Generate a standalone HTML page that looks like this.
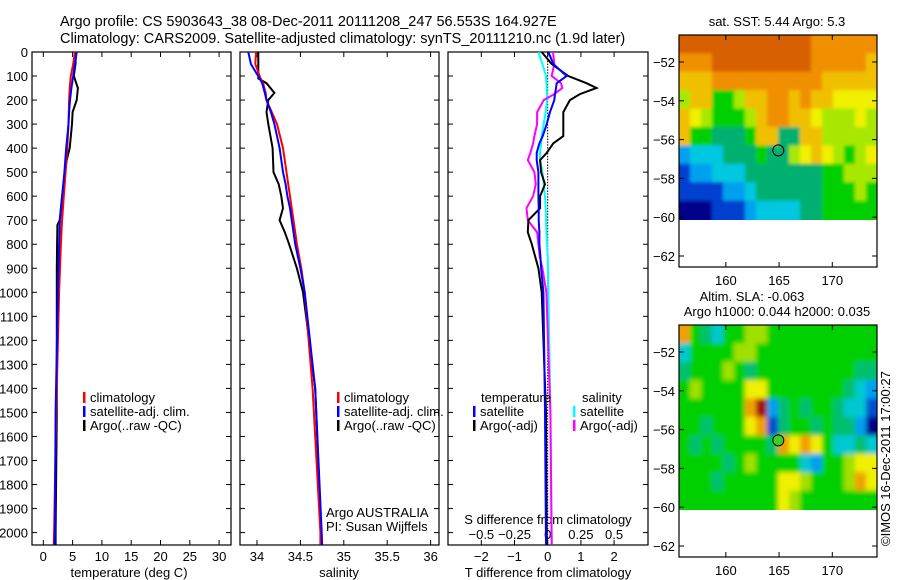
<!DOCTYPE html>
<html><head><meta charset="utf-8"><style>
body{margin:0;background:#fff}
svg{display:block;font-family:"Liberation Sans",sans-serif}
text{fill:#000}
</style></head><body>
<svg id="fig" width="900" height="580" viewBox="0 0 900 580">
<defs>
<filter id="blurSST" x="-10%" y="-10%" width="120%" height="120%"><feGaussianBlur stdDeviation="1.5"/></filter>
<filter id="blurSLA" x="-10%" y="-10%" width="120%" height="120%"><feGaussianBlur stdDeviation="2.5"/></filter>
<clipPath id="clipSST"><rect x="679" y="35" width="198" height="185"/></clipPath>
<clipPath id="clipSLA"><rect x="679" y="325" width="198" height="185"/></clipPath>
</defs>
<text x="60" y="26" font-size="14.5">Argo profile: CS 5903643_38 08-Dec-2011 20111208_247 56.553S 164.927E</text>
<text x="60" y="43" font-size="14.5">Climatology: CARS2009. Satellite-adjusted climatology: synTS_20111210.nc (1.9d later)</text>
<g id="g"></g>
</svg>
<script>
// ---- profile data ----
const tDepth=[0,50,100,150,200,250,300,400,450,500,600,700,720,800,900,1000,1500,2000,2050];
const tArgo=[5.6,5.5,5.2,5.9,5.7,5.0,4.9,4.5,4.0,3.7,3.2,2.8,2.4,2.35,2.3,2.3,2.3,2.1,2.1];
const tClim=[5.4,5.1,4.7,4.5,4.4,4.35,4.3,4.1,3.95,3.8,3.5,3.2,3.15,3.0,2.85,2.7,2.2,1.85,1.8];
const tSat=[5.7,5.4,5.1,4.8,4.55,4.4,4.3,3.9,3.75,3.6,3.2,2.85,2.8,2.7,2.6,2.5,2.1,2.0,1.9];
const sDepth=[0,50,110,130,170,200,250,300,400,500,550,600,650,700,750,800,900,1000,1400,2000,2050];
const sArgo=[34.015,34.015,34.015,34.11,34.2,34.13,34.11,34.13,34.18,34.19,34.25,34.28,34.30,34.26,34.32,34.37,34.46,34.53,34.67,34.74,34.74];
const sClim=[33.99,33.98,34.04,34.07,34.1,34.11,34.17,34.23,34.30,34.34,34.36,34.38,34.40,34.42,34.44,34.46,34.51,34.55,34.64,34.73,34.73];
const sSat=[33.9,33.93,34.03,34.06,34.09,34.11,34.16,34.2,34.26,34.30,34.33,34.35,34.38,34.40,34.42,34.44,34.5,34.55,34.67,34.745,34.75];
const dDepth=[0,50,100,130,150,175,200,250,300,350,380,420,450,500,550,600,650,700,750,800,850,900,1000,1500,2050];
const dTArgo=[-0.18,0.12,0.62,1.17,1.47,0.97,0.67,0.47,0.47,0.47,0.17,-0.03,-0.23,-0.2,-0.08,-0.23,-0.23,-0.58,-0.6,-0.48,-0.38,-0.28,-0.18,-0.05,-0.03];
const dTSat=[0.02,0.17,0.57,0.27,0.25,0.22,0.2,0.07,-0.03,-0.15,-0.25,-0.33,-0.33,-0.28,-0.28,-0.28,-0.27,-0.27,-0.25,-0.25,-0.22,-0.2,-0.13,-0.08,-0.05];
const dSSat=[-0.07,-0.04,-0.013,-0.01,-0.008,-0.006,-0.005,-0.015,-0.03,-0.045,-0.05,-0.058,-0.058,-0.04,-0.03,-0.02,-0.015,-0.013,-0.01,-0.005,0,0.002,0.005,0.02,0.03];
const dSArgo=[0.04,0.05,0.03,0.1,0.11,0.05,-0.03,-0.08,-0.08,-0.1,-0.11,-0.13,-0.15,-0.1,-0.09,-0.11,-0.16,-0.15,-0.08,-0.07,-0.06,-0.04,-0.01,0.02,0.03];
const depthTicks=[0,100,200,300,400,500,600,700,800,900,1000,1100,1200,1300,1400,1500,1600,1700,1800,1900,2000];
const tTicks=[0,5,10,15,20,25,30];
const sTicks=[34,34.5,35,35.5,36];
const sTickLabels=["34","34.5","35","35.5","36"];
const dTTicks=[-2,-1,0,1,2];
const dSTicks=[-0.5,-0.25,0,0.25,0.5];
const dSTickLabels=["-0.5","-0.25","0","0.25","0.5"];
// ---- map data (colour index 0..10) ----
const sstGrid=[
[10,10,10,10,10,10,10,10,10,10,10,10,9,9,9,9,9,9],
[9,9,9,10,10,10,10,10,10,10,10,10,9,9,9,9,9,8],
[8,8,8,9,9,9,9,9,9,9,9,9,9,8,8,8,8,8],
[6,8,8,5,5,6,8,8,9,9,8,9,8,8,7,7,7,7],
[8,7,6,5,5,5,6,8,9,9,8,8,7,6,6,6,7,6],
[8,5,5,4,4,4,5,8,8,4,4,8,8,6,6,6,6,6],
[2,3,3,3,4,4,4,5,4,4,6,7,8,7,6,5,6,7],
[1,2,2,3,3,3,4,4,4,4,4,4,4,5,5,6,6,6],
[1,1,1,1,2,2,3,4,4,4,4,4,4,5,5,5,6,5],
[0,0,0,1,1,1,2,3,3,3,3,4,4,5,5,5,5,5]];
const slaGrid=[
[8,5,4,3,5,5,6,6,5,5,5,5,5,5,5,5,5,5],
[3,5,5,5,5,6,6,5,5,5,5,5,5,5,5,5,5,5],
[4,5,5,5,6,5,4,5,5,5,5,5,5,5,5,5,4,4],
[5,6,5,5,5,5,7,7,5,5,5,5,5,5,5,4,3,2],
[5,5,5,5,5,5,8,10,2,4,5,4,5,5,4,3,3,1],
[5,5,4,5,5,5,7,8,1,4,5,5,4,5,4,4,2,0],
[5,4,5,4,5,5,5,5,4,8,7,8,7,5,3,3,4,3],
[5,5,5,5,4,5,6,5,5,5,5,3,2,5,5,6,7,7],
[5,5,5,4,5,5,5,5,5,7,7,6,5,5,5,6,8,7],
[5,5,5,5,5,5,5,5,5,7,6,5,5,5,5,5,5,5]];
const mapLatTicks=[-52,-54,-56,-58,-60,-62];
const mapLonTicks=[160,165,170];
const argoPos=[164.927,-56.553];

const sstPal=["#00008c","#0040d0","#00a0f0","#00c8e0","#00b070","#00d000","#a8e800","#f0f000","#f0c000","#f09000","#d86000"];
const slaPal=["#000090","#0050d0","#00a0f0","#00c8d0","#00c070","#00d000","#a0e000","#f0f000","#f0a000","#e06000","#a01010"];

const NS="http://www.w3.org/2000/svg";
const G=document.getElementById('g');
function mk(tag,attrs,parent){const e=document.createElementNS(NS,tag);for(const k in attrs)e.setAttribute(k,attrs[k]);(parent||G).appendChild(e);return e;}
function txt(x,y,s,size,anchor,name){const e=mk('text',{x:x,y:y,'font-size':size,'text-anchor':anchor||'start'});e.textContent=s;


return e;}

const pTop=52,pBot=545;
const yD=d=>52+0.2403*d;
const panels=[{x0:32,x1:231},{x0:240,x1:439},{x0:448,x1:648}];
const xT=v=>43.3+5.86*v;
const xS=v=>257+86.8*(v-34);
const xDT=v=>547.7+33.2*v;
const xDS=v=>547.7+132.7*v;

function line(xs,vals,depths,fx,color,name){
  const pts=vals.map((v,i)=>fx(v).toFixed(1)+','+yD(depths[i]).toFixed(1)).join(' ');
  const p=mk('polyline',{points:pts,fill:'none',stroke:color,'stroke-width':2});
  
  
}

panels.forEach((p,i)=>{
  const r=mk('rect',{x:p.x0,y:pTop,width:p.x1-p.x0,height:pBot-pTop,fill:'none',stroke:'#000','stroke-width':1.2});
  
  
  depthTicks.forEach(d=>{
    mk('line',{x1:p.x0,x2:p.x0+5,y1:yD(d),y2:yD(d),stroke:'#000'});
    mk('line',{x1:p.x1,x2:p.x1-5,y1:yD(d),y2:yD(d),stroke:'#000'});
  });
});
depthTicks.forEach(d=>txt(28,yD(d)+5,String(d),13,'end','depth-tick-label'));

// panel 1
tTicks.forEach(v=>{mk('line',{x1:xT(v),x2:xT(v),y1:pTop,y2:pTop+5,stroke:'#000'});mk('line',{x1:xT(v),x2:xT(v),y1:pBot,y2:pBot-5,stroke:'#000'});txt(xT(v),561,String(v),13,'middle','temperature-tick-label');});
txt(129,577,'temperature (deg C)',13,'middle','temperature-axis-title');
line(0,tArgo,tDepth,xT,'#000','temperature-argo-line');
line(0,tClim,tDepth,xT,'#f00','temperature-climatology-line');
line(0,tSat,tDepth,xT,'#00f','temperature-satellite-line');
// panel 2
sTicks.forEach((v,i)=>{mk('line',{x1:xS(v),x2:xS(v),y1:pTop,y2:pTop+5,stroke:'#000'});mk('line',{x1:xS(v),x2:xS(v),y1:pBot,y2:pBot-5,stroke:'#000'});txt(xS(v),561,sTickLabels[i],13,'middle','salinity-tick-label');});
txt(339,577,'salinity',13,'middle','salinity-axis-title');
line(0,sArgo,sDepth,xS,'#000','salinity-argo-line');
line(0,sClim,sDepth,xS,'#f00','salinity-climatology-line');
line(0,sSat,sDepth,xS,'#00f','salinity-satellite-line');
// panel 3
for(let d=0;d<=2050;d+=12){mk('rect',{x:547.2,y:yD(d),width:1,height:1.5,fill:'#000'});}
dTTicks.forEach(v=>{mk('line',{x1:xDT(v),x2:xDT(v),y1:pTop,y2:pTop+5,stroke:'#000'});mk('line',{x1:xDT(v),x2:xDT(v),y1:pBot,y2:pBot-5,stroke:'#000'});txt(xDT(v),561,String(v).replace('-','\u2212'),13,'middle','t-diff-tick-label');});
dSTicks.forEach((v,i)=>txt(xDS(v),539,dSTickLabels[i].replace('-','\u2212'),13,'middle','s-diff-tick-label'));
txt(548,524,'S difference from climatology',13,'middle','s-diff-axis-title');
txt(548,577,'T difference from climatology',13,'middle','t-diff-axis-title');
line(0,dSSat,dDepth,xDS,'#00ffff','s-diff-satellite-line');
line(0,dSArgo,dDepth,xDS,'#ff00ff','s-diff-argo-line');
line(0,dTArgo,dDepth,xDT,'#000','t-diff-argo-line');
line(0,dTSat,dDepth,xDT,'#0000ff','t-diff-satellite-line');

// legends
function leg(x,y,color,label,name){
  const b=mk('rect',{x:x,y:y-10,width:2.5,height:11,fill:color});
  
  
  txt(x+7,y,label,13,'start',name);
}
leg(83,402,'#f00','climatology','legend-climatology');
leg(83,416,'#00f','satellite-adj. clim.','legend-satellite-adj');
leg(83,430,'#000','Argo(..raw -QC)','legend-argo');
leg(337,402,'#f00','climatology','legend-climatology-2');
leg(337,416,'#00f','satellite-adj. clim.','legend-satellite-adj-2');
leg(337,430,'#000','Argo(..raw -QC)','legend-argo-2');
txt(326,517,'Argo AUSTRALIA',13,'start','argo-australia-label');
txt(326,531,'PI: Susan Wijffels',13,'start','pi-label');
txt(481,402,'temperature',13,'start','legend-temperature-header');
txt(582,402,'salinity',13,'start','legend-salinity-header');
leg(473,416,'#00f','satellite','legend-t-satellite');
leg(473,430,'#000','Argo(-adj)','legend-t-argo');
leg(573,416,'#00ffff','satellite','legend-s-satellite');
leg(573,430,'#ff00ff','Argo(-adj)','legend-s-argo');

// maps
const lonL=155.6,lonR=174.2;
const mx=v=>679+(v-lonL)*(198/(lonR-lonL));
function drawMap(y0,grid,pal,name,fillCircle,filt,clip){
  const myL=v=>y0+27+(-52-v)*19.4;
  const latTop=-50.6,latBot=-60.1;
  const rows=grid.length,cols=grid[0].length;
  const cw=(mx(lonR)-mx(lonL))/cols, ch=(myL(latBot)-myL(latTop))/rows;
  const outer=mk('g',{'clip-path':'url(#'+clip+')'});
  
  
  const inner=mk('g',{filter:'url(#'+filt+')'},outer);
  grid.forEach((row,r)=>row.forEach((v,c)=>{
    let x=mx(lonL)+c*cw, y=myL(latTop)+r*ch, w=cw+0.6, h=ch+0.6;
    if(c===0){x-=12;w+=12;} if(c===cols-1){w+=12;}
    if(r===0){y-=12;h+=12;} if(r===rows-1){h+=12;}
    const cell=mk('rect',{x:x.toFixed(2),y:y.toFixed(2),width:w.toFixed(2),height:h.toFixed(2),fill:pal[v]},inner);
    
    
  }));
  const b=mk('rect',{x:679,y:y0,width:198,height:232,fill:'none',stroke:'#000','stroke-width':1.2});
  
  
  mapLatTicks.forEach(v=>{mk('line',{x1:679,x2:684,y1:myL(v),y2:myL(v),stroke:'#000'});mk('line',{x1:877,x2:872,y1:myL(v),y2:myL(v),stroke:'#000'});txt(675,myL(v)+5,String(v).replace('-','\u2212'),13,'end',name+'-lat-label');});
  mapLonTicks.forEach(v=>{mk('line',{x1:mx(v),x2:mx(v),y1:y0,y2:y0+5,stroke:'#000'});mk('line',{x1:mx(v),x2:mx(v),y1:y0+232,y2:y0+227,stroke:'#000'});txt(mx(v),y0+250,String(v),13,'middle',name+'-lon-label');});
  const c=mk('circle',{cx:mx(argoPos[0]),cy:myL(argoPos[1]),r:5.5,fill:fillCircle||'none',stroke:'#000','stroke-width':1});
  
  
}
drawMap(35,sstGrid,sstPal,'sst-map',null,'blurSST','clipSST');
drawMap(325,slaGrid,slaPal,'sla-map','#40d020','blurSLA','clipSLA');
txt(777,26,'sat. SST: 5.44 Argo: 5.3',13,'middle','sst-map-title');
txt(752,301,'Altim. SLA: -0.063',13,'middle','sla-map-title');
txt(777,316,'Argo h1000: 0.044 h2000: 0.035',13,'middle','sla-map-subtitle');
const cr=txt(0,0,'\u00a9IMOS 16-Dec-2011 17:00:27',13,'start','imos-credit');
cr.setAttribute('transform','translate(890,546) rotate(-90)');
</script>
</body></html>
